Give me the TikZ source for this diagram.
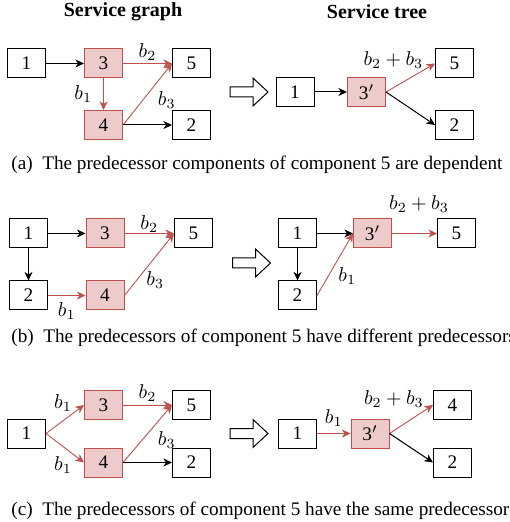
\documentclass[tikz,border=0pt]{standalone}
\usepackage{fontspec}
\setmainfont{Liberation Serif}
\usepackage{tikz}
\usetikzlibrary{arrows.meta,positioning}
\definecolor{compred}{RGB}{192,80,77}
\tikzstyle{comp} = [rectangle, draw=black, line width=0.5pt, minimum width=19pt, minimum height=14.5pt, inner sep=0pt, fill=white]
\tikzstyle{merged} = [comp, draw=compred, fill=compred!30]
\tikzstyle{arrow} = [->,>={Stealth[length=4.3pt,width=4pt,inset=1.3pt]}, line width=0.5pt]
\tikzstyle{redarrow} = [arrow, line width=0.45pt, color=compred]
\tikzstyle{lbl} = [inner sep=1.5pt, text=black]
\tikzstyle{caption} = [anchor=west, inner sep=0pt]
\tikzstyle{title} = [font=\fontsize{10}{12}\selectfont\bfseries]
% hollow arrow between the two halves
\newcommand{\turnsinto}[1]{\draw[line width=0.5pt, fill=white] (#1) ++(-19,-5) -- ++(23,0) -- ++(0,-9) -- ++(15,14) -- ++(-15,14) -- ++(0,-9) -- ++(-23,0) -- cycle;}

\begin{document}
\begin{tikzpicture}[x=0.5pt, y=-0.5pt, font=\fontsize{9.6}{11.5}\selectfont]
\useasboundingbox (0,0) rectangle (509,522);

\node (graphtitle) [title] at (123,12) {Service graph};
\node (treetitle) [title] at (377,12) {Service tree};

%% (a)
\node (a1) [comp] at (26.5,63.5) {1};
\node (a3) [merged] at (103.5,63.5) {3};
\node (a5) [comp] at (191.5,63.5) {5};
\node (a4) [merged] at (103.5,125) {4};
\node (a2) [comp] at (191.5,125) {2};
\draw[arrow] (a1) -- (a3);
\draw[redarrow] (a3) -- node[lbl, above] {$b_2$} (a5);
\draw[redarrow] (a3) -- node[lbl, left=4pt] {$b_1$} (a4);
\draw[redarrow] (a4.east) -- node[lbl, right=3.5pt, yshift=-3pt] {$b_3$} (a5.west);
\draw[arrow] (a4) -- (a2);

\turnsinto{249,92}

\node (ta1) [comp] at (295,92) {1};
\node (ta3) [merged] at (366.5,92) {3$'$};
\node (ta5) [comp] at (454.5,63.5) {5};
\node (ta2) [comp] at (454.5,125) {2};
\draw[arrow] (ta1) -- (ta3);
\draw[redarrow] (ta3.east) -- node[lbl, pos=0.15, above=8pt] {$b_2+b_3$} (ta5.west);
\draw[arrow] (ta3.east) -- (ta2.west);

\node (capa) [caption] at (11,165) {(a)~~The predecessor components of component 5 are dependent};

%% (b)
\node (b1) [comp] at (28.5,233.5) {1};
\node (b3) [merged] at (105,233.5) {3};
\node (b5) [comp] at (193.5,233.5) {5};
\node (b2) [comp] at (28.5,295.5) {2};
\node (b4) [merged] at (105,295.5) {4};
\draw[arrow] (b1) -- (b3);
\draw[arrow] (b1) -- (b2);
\draw[redarrow] (b2) -- node[lbl, below=2pt] {$b_1$} (b4);
\draw[redarrow] (b3) -- node[lbl, above=-1pt] {$b_2$} (b5);
\draw[redarrow] (b4.east) -- node[lbl, below=2pt, xshift=3pt] {$b_3$} (b5.west);

\turnsinto{251.5,263}

\node (tb1) [comp] at (297.5,233.5) {1};
\node (tb3) [merged] at (372.5,233.5) {3$'$};
\node (tb5) [comp] at (456.5,233.5) {5};
\node (tb2) [comp] at (297.5,295.5) {2};
\draw[arrow] (tb1) -- (tb3);
\draw[arrow] (tb1) -- (tb2);
\draw[redarrow] (tb2.east) -- node[lbl, below right] {$b_1$} (tb3.west);
\draw[redarrow] (tb3) -- node[lbl, above=9pt, pos=0.6] {$b_2+b_3$} (tb5);

\node (capb) [caption] at (11,338) {(b)~~The predecessors of component 5 have different predecessors};

%% (c)
\node (c1) [comp] at (26.5,433.5) {1};
\node (c3) [merged] at (103.5,405) {3};
\node (c5) [comp] at (191.5,405) {5};
\node (c4) [merged] at (103.5,462.5) {4};
\node (c2) [comp] at (191.5,462.5) {2};
\draw[redarrow] (c1.east) -- node[lbl, above=2pt, xshift=-1pt] {$b_1$} (c3.west);
\draw[redarrow] (c1.east) -- node[lbl, below=2.5pt, xshift=-1pt] {$b_1$} (c4.west);
\draw[redarrow] (c3) -- node[lbl, above] {$b_2$} (c5);
\draw[redarrow] (c4.east) -- node[lbl, right=3.5pt, yshift=-3pt] {$b_3$} (c5.west);
\draw[arrow] (c4) -- (c2);

\turnsinto{249,433.5}

\node (tc1) [comp] at (297.5,433.5) {1};
\node (tc3) [merged] at (370,433.5) {3$'$};
\node (tc4) [comp] at (452.5,405) {4};
\node (tc2) [comp] at (452.5,462.5) {2};
\draw[redarrow] (tc1) -- node[lbl, above=2pt] {$b_1$} (tc3);
\draw[redarrow] (tc3.east) -- node[lbl, pos=0.1, above=10pt] {$b_2+b_3$} (tc4.west);
\draw[arrow] (tc3.east) -- (tc2.west);

\node (capc) [caption] at (11,511) {(c)~~The predecessors of component 5 have the same predecessor};
\end{tikzpicture}
\end{document}
